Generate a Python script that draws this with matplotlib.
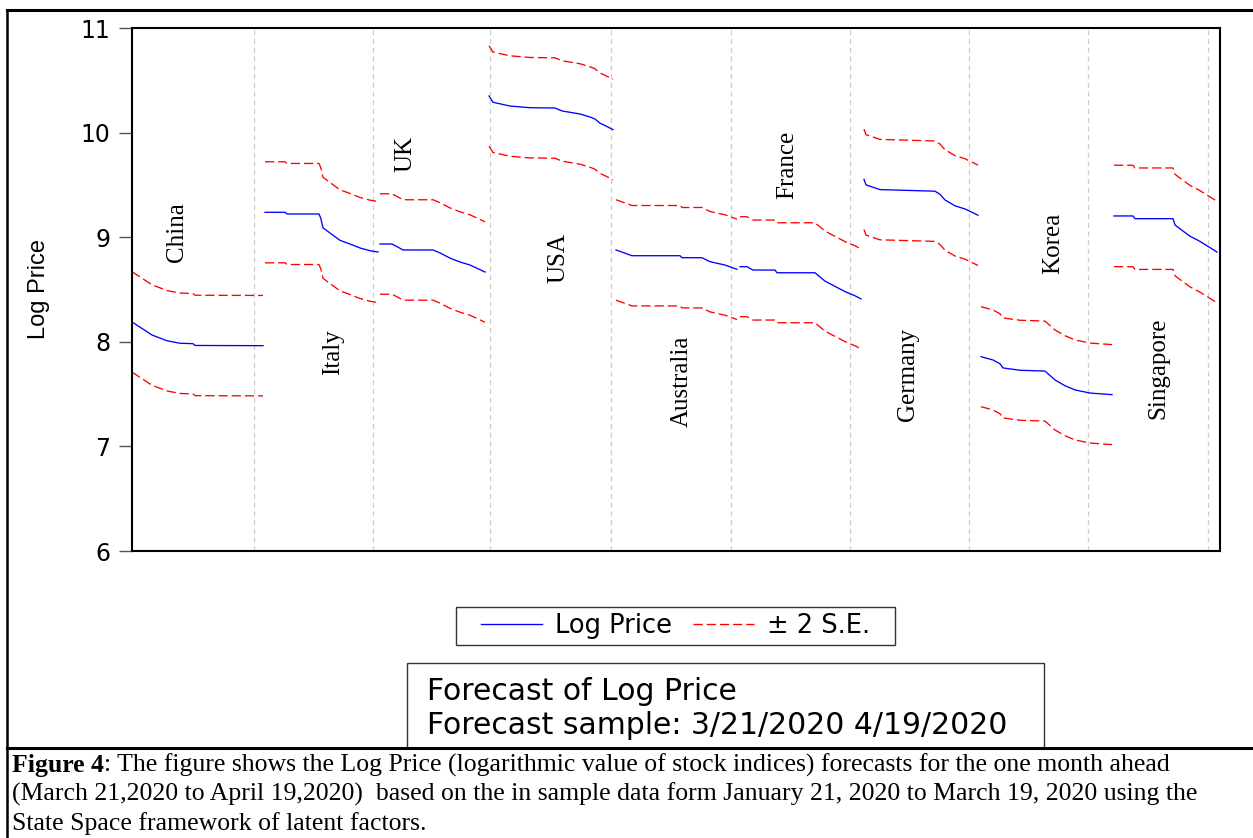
import matplotlib
matplotlib.use("Agg")
import matplotlib.pyplot as plt
from matplotlib.lines import Line2D
from matplotlib.patches import Rectangle

# forecast paths, x = day index along the stacked sample, y = log price
china_x = [0, 2, 5, 8.75, 12, 15.25, 15.75, 32.75]
china_y = [8.19, 8.14, 8.065, 8.01, 7.986, 7.982, 7.965, 7.963]
italy_x = [33.25, 38.25, 38.75, 46.75, 47.2, 47.75, 49.5, 52, 54.5, 57, 59.5, 61.5]
italy_y = [9.238, 9.238, 9.222, 9.222, 9.18, 9.09, 9.04, 8.97, 8.935, 8.897, 8.871, 8.858]
uk_x = [62, 65, 66.25, 67.75, 75.25, 77, 79.5, 82, 84.5, 88.25]
uk_y = [8.935, 8.935, 8.91, 8.878, 8.878, 8.85, 8.80, 8.763, 8.734, 8.667]
usa_x = [89.25, 90.25, 94.5, 99.5, 105.75, 107.5, 112, 114.5, 115.75, 117, 118.5, 120.25]
usa_y = [10.35, 10.29, 10.254, 10.238, 10.235, 10.207, 10.178, 10.149, 10.13, 10.09, 10.063, 10.028]
australia_x = [121, 125, 137, 137.5, 142.5, 144.5, 148.25, 151.25]
australia_y = [8.878, 8.823, 8.823, 8.804, 8.804, 8.766, 8.734, 8.693]
france_x = [152, 153.75, 155.25, 160.75, 161.25, 170.75, 173.25, 175.75, 178.25, 180.75, 182.25]
france_y = [8.718, 8.718, 8.686, 8.686, 8.66, 8.66, 8.58, 8.53, 8.48, 8.44, 8.41]
germany_x = [183, 183.5, 187, 200.75, 202, 203.25, 205.75, 208.25, 211.5]
germany_y = [9.553, 9.50, 9.455, 9.44, 9.41, 9.356, 9.30, 9.27, 9.21]
korea_x = [212.25, 215.25, 217, 217.75, 222, 228.25, 230.75, 233.25, 235.75, 239.5, 245]
korea_y = [7.858, 7.826, 7.79, 7.75, 7.728, 7.72, 7.635, 7.58, 7.54, 7.51, 7.495]
singapore_x = [245.5, 250.25, 250.75, 260.25, 260.75, 262, 264.5, 267, 269.5, 271.25]
singapore_y = [9.203, 9.203, 9.177, 9.177, 9.117, 9.08, 9.01, 8.96, 8.90, 8.858]

countries = ["China", "Italy", "UK", "USA", "Australia", "France", "Germany", "Korea", "Singapore"]
paths = [(china_x, china_y), (italy_x, italy_y), (uk_x, uk_y), (usa_x, usa_y),
         (australia_x, australia_y), (france_x, france_y), (germany_x, germany_y),
         (korea_x, korea_y), (singapore_x, singapore_y)]
two_se = [0.48, 0.483, 0.48, 0.48, 0.48, 0.478, 0.48, 0.478, 0.485]

# where the country names sit (day index, log price)
label_x = [11.25, 50.25, 68.25, 106.5, 137.5, 163.75, 194, 230.25, 256.5]
label_y = [9.05, 7.90, 9.795, 8.80, 7.625, 9.69, 7.69, 8.945, 7.75]

grid_days = [30.5, 60.25, 89.5, 119.75, 149.75, 179.5, 209.25, 239, 269]
y_ticks = [6, 7, 8, 9, 10, 11]

caption_lines = [
    ": The figure shows the Log Price (logarithmic value of stock indices) forecasts "
    "for the one month ahead",
    "(March 21,2020 to April 19,2020)  based on the in sample data form January 21, 2020 "
    "to March 19, 2020 using the",
    "State Space framework of latent factors.",
]

W, H = 1253, 838
sans = "Liberation Sans"
wide = "DejaVu Sans"
serif = "Liberation Serif"
red_dash = (0, (7, 3))

fig = plt.figure(figsize=(W / 100, H / 100), dpi=100)
ax = fig.add_axes([132 / W, 1 - 551 / H, (1220 - 132) / W, (551 - 28) / H])

for d in grid_days:
    ax.axvline(d, color="#cccccc", lw=0.9, linestyle=(0, (4, 3)), zorder=0)

for (xs, ys), se in zip(paths, two_se):
    up = [v + se for v in ys]
    lo = [v - se for v in ys]
    ax.plot(xs, ys, color="#0000ff", lw=0.95)
    ax.plot(xs, up, color="#ff0000", lw=0.95, linestyle=red_dash)
    ax.plot(xs, lo, color="#ff0000", lw=0.95, linestyle=red_dash)

for name, lx, ly in zip(countries, label_x, label_y):
    ax.text(lx, ly, name, rotation=90, ha="center", va="center",
            family=serif, fontsize=18)

ax.set_xlim(0, 272)
ax.set_ylim(6, 11)
ax.set_xticks([])
ax.set_yticks(y_ticks)
ax.set_yticklabels([str(t) for t in y_ticks], family=wide, fontsize=17)
ax.tick_params(axis="y", length=9.5, width=1.0, color="#555555", pad=6)
for s in ax.spines.values():
    s.set_linewidth(1.5)
    s.set_color("black")

fig.text(39 / W, 1 - 289 / H, "Log Price", rotation=90, ha="center", va="center",
         family=sans, fontsize=17)

# legend, drawn inside its own box
fig.add_artist(Rectangle((456 / W, 1 - 645 / H), (895 - 456) / W, (645 - 607) / H,
                         transform=fig.transFigure, fill=False, ec="#333333", lw=1.0))
handles = [Line2D([], [], color="#0000ff", lw=0.95),
           Line2D([], [], color="#ff0000", lw=0.95, linestyle=red_dash)]
fig.legend(handles, ["Log Price", "\u00b1 2 S.E."], loc="center",
           bbox_to_anchor=(675.5 / W, 1 - 626 / H), ncol=2,
           prop={"family": wide, "size": 18.5}, frameon=False,
           handlelength=2.4, handletextpad=0.5, columnspacing=0.8, borderpad=0.1)

# forecast info box
fig.add_artist(Rectangle((407 / W, 1 - 748 / H), (1044 - 407) / W, (748 - 663) / H,
                         transform=fig.transFigure, fill=False, ec="#333333", lw=1.0))
fig.text(427 / W, 1 - 700 / H, "Forecast of Log Price", family=wide, fontsize=21.5,
         va="baseline")
fig.text(427 / W, 1 - 734 / H, "Forecast sample: 3/21/2020 4/19/2020", family=wide,
         fontsize=21.5, va="baseline")

# outer frame and caption separator
fig.add_artist(Line2D([7 / W, 1], [1 - 10 / H, 1 - 10 / H], transform=fig.transFigure,
                      color="black", lw=2.2))
fig.add_artist(Line2D([7 / W, 7 / W], [0, 1 - 10 / H], transform=fig.transFigure,
                      color="black", lw=1.8))
fig.add_artist(Line2D([7 / W, 1], [1 - 748 / H, 1 - 748 / H], transform=fig.transFigure,
                      color="black", lw=2.2))

# caption: bold lead-in, rest placed after it on the same baseline
cap_size = 18.5
first = fig.text(12 / W, 1 - 772 / H, "Figure 4", family=serif, fontsize=cap_size,
                 weight="bold", va="baseline")
fig.canvas.draw()
bb = first.get_window_extent()
fig.text(bb.x1 / W, 1 - 772 / H, caption_lines[0], family=serif, fontsize=cap_size,
         va="baseline")
for i, line in enumerate(caption_lines[1:]):
    fig.text(12 / W, 1 - (801 + 29 * i) / H, line, family=serif, fontsize=cap_size,
             va="baseline")

fig.savefig("out.png", dpi=100)
